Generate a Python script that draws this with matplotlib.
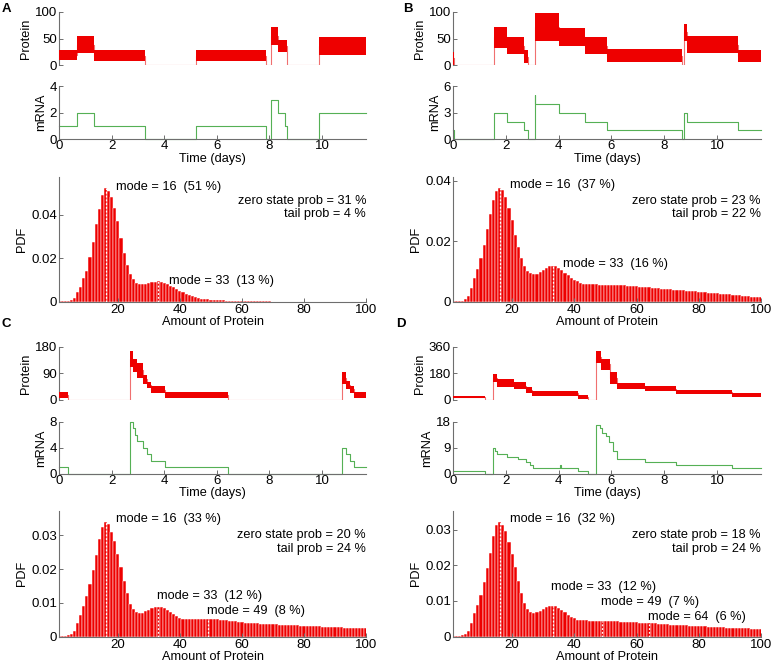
import matplotlib
matplotlib.use("Agg")
import matplotlib.pyplot as plt
import numpy as np

plt.rcParams['font.family'] = ['Liberation Sans', 'DejaVu Sans']
plt.rcParams['font.size'] = 9

T_END = 11.67

# ---------------- Panel A ----------------
A_prot_t = [0, 0.70, 1.33, 3.26, 5.22, 7.88, 8.05, 8.33, 8.68, 9.90]
A_prot_lo = [9, 22, 7, 0, 7, 0, 38, 25, 0, 18]
A_prot_hi = [28, 55, 28, 0, 28, 0, 72, 48, 0, 52]
A_mrna_t = [0, 0.70, 1.33, 3.26, 5.22, 7.88, 8.05, 8.31, 8.60, 8.68, 9.90]
A_mrna = [1, 2, 1, 0, 1, 0, 3, 2, 1, 0, 2]
A_pdf = [0.0005, 0.0003, 0.0003, 0.0005, 0.0010, 0.0020, 0.0045, 0.0070, 0.0110, 0.0140,
         0.0205, 0.0275, 0.0355, 0.0425, 0.0490, 0.0520, 0.0510, 0.0480, 0.0430, 0.0370,
         0.0295, 0.0225, 0.0170, 0.0130, 0.0103, 0.0088, 0.0082, 0.0081, 0.0083, 0.0086,
         0.0090, 0.0093, 0.0094, 0.0092, 0.0088, 0.0082, 0.0075, 0.0067, 0.0059, 0.0051,
         0.0044, 0.0038, 0.0032, 0.0027, 0.0023, 0.0019, 0.0016, 0.0014, 0.0012, 0.0010,
         0.0009, 0.0008, 0.0007, 0.0007, 0.0006, 0.0006, 0.0005, 0.0005, 0.0005, 0.0004,
         0.0004, 0.0004, 0.0004, 0.0003, 0.0003, 0.0003, 0.0003, 0.0003, 0.0003, 0.0002,
         0.0002, 0.0002, 0.0002, 0.0002, 0.0002, 0.0002, 0.0002, 0.0002, 0.0002, 0.0002,
         0.0002, 0.0002, 0.0002, 0.0001, 0.0001, 0.0001, 0.0001, 0.0001, 0.0001, 0.0001,
         0.0001, 0.0001, 0.0001, 0.0001, 0.0001, 0.0001, 0.0001, 0.0001, 0.0001, 0.0001]
A_modes = [16, 33]
A_mode_labels = ["mode = 16  (51 %)", "mode = 33  (13 %)"]
A_info = ["zero state prob = 31 %", "tail prob = 4 %"]

# ---------------- Panel B ----------------
B_prot_t = [0, 0.04, 1.56, 2.04, 2.69, 2.84, 3.10, 4.03, 5.00, 5.84, 8.66, 8.75, 8.88, 10.81]
B_prot_lo = [0, 0, 33, 20, 3, 0, 45, 35, 20, 5, 0, 45, 22, 6]
B_prot_hi = [25, 0, 72, 52, 28, 0, 98, 70, 52, 30, 0, 78, 55, 28]
B_mrna_t = [0, 0.03, 1.56, 2.04, 2.69, 2.84, 3.10, 3.12, 4.03, 5.00, 5.84, 8.66, 8.75, 8.88, 10.81]
B_mrna = [1, 0, 3, 2, 1, 0, 5, 4, 3, 2, 1, 0, 3, 2, 1]
B_pdf = [0.0003, 0.0002, 0.0002, 0.0004, 0.0009, 0.0020, 0.0045, 0.0078, 0.0108, 0.0145,
         0.0188, 0.0240, 0.0290, 0.0335, 0.0365, 0.0375, 0.0370, 0.0345, 0.0310, 0.0270,
         0.0222, 0.0180, 0.0145, 0.0120, 0.0103, 0.0095, 0.0091, 0.0093, 0.0098, 0.0105,
         0.0112, 0.0118, 0.0120, 0.0118, 0.0113, 0.0105, 0.0097, 0.0088, 0.0080, 0.0073,
         0.0068, 0.0064, 0.0061, 0.0059, 0.0058, 0.0058, 0.0058, 0.0057, 0.0057, 0.0057,
         0.0057, 0.0056, 0.0056, 0.0056, 0.0056, 0.0055, 0.0054, 0.0053, 0.0053, 0.0052,
         0.0051, 0.0050, 0.0049, 0.0048, 0.0047, 0.0046, 0.0045, 0.0044, 0.0044, 0.0043,
         0.0042, 0.0041, 0.0040, 0.0039, 0.0038, 0.0037, 0.0036, 0.0036, 0.0035, 0.0034,
         0.0033, 0.0032, 0.0031, 0.0030, 0.0029, 0.0029, 0.0028, 0.0027, 0.0026, 0.0025,
         0.0024, 0.0023, 0.0022, 0.0021, 0.0020, 0.0019, 0.0018, 0.0017, 0.0016, 0.0015]
B_modes = [16, 33]
B_mode_labels = ["mode = 16  (37 %)", "mode = 33  (16 %)"]
B_info = ["zero state prob = 23 %", "tail prob = 22 %"]

# ---------------- Panel C ----------------
C_prot_t = [0, 0.33, 2.70, 2.82, 2.95, 3.20, 3.35, 3.50, 4.04, 6.44, 10.75, 10.90, 11.05, 11.20]
C_prot_lo = [8, 0, 110, 95, 75, 55, 40, 22, 8, 0, 55, 38, 25, 8]
C_prot_hi = [28, 0, 165, 140, 125, 85, 62, 48, 28, 0, 95, 65, 48, 28]
C_mrna_t = [0, 0.33, 2.70, 2.80, 2.90, 2.95, 3.20, 3.33, 3.50, 4.04, 6.44, 10.75, 10.90, 11.05, 11.20]
C_mrna = [1, 0, 8, 7, 6, 5, 4, 3, 2, 1, 0, 4, 3, 2, 1]
C_pdf = [0.0003, 0.0002, 0.0002, 0.0004, 0.0008, 0.0018, 0.0040, 0.0065, 0.0092, 0.0120,
         0.0155, 0.0198, 0.0242, 0.0290, 0.0325, 0.0338, 0.0332, 0.0310, 0.0282, 0.0245,
         0.0205, 0.0165, 0.0128, 0.0098, 0.0082, 0.0073, 0.0069, 0.0070, 0.0075, 0.0080,
         0.0085, 0.0088, 0.0089, 0.0088, 0.0085, 0.0079, 0.0072, 0.0066, 0.0060, 0.0056,
         0.0053, 0.0052, 0.0051, 0.0051, 0.0051, 0.0051, 0.0052, 0.0052, 0.0052, 0.0052,
         0.0051, 0.0051, 0.0050, 0.0049, 0.0048, 0.0047, 0.0046, 0.0045, 0.0044, 0.0043,
         0.0042, 0.0042, 0.0041, 0.0040, 0.0040, 0.0039, 0.0039, 0.0038, 0.0038, 0.0037,
         0.0037, 0.0036, 0.0036, 0.0035, 0.0035, 0.0034, 0.0034, 0.0034, 0.0033, 0.0033,
         0.0032, 0.0032, 0.0031, 0.0031, 0.0031, 0.0030, 0.0030, 0.0029, 0.0029, 0.0028,
         0.0028, 0.0028, 0.0027, 0.0027, 0.0026, 0.0026, 0.0026, 0.0025, 0.0025, 0.0025]
C_modes = [16, 33, 49]
C_mode_labels = ["mode = 16  (33 %)", "mode = 33  (12 %)", "mode = 49  (8 %)"]
C_info = ["zero state prob = 20 %", "tail prob = 24 %"]

# ---------------- Panel D ----------------
D_prot_t = [0, 1.22, 1.52, 1.65, 2.30, 2.75, 3.00, 4.72, 5.10, 5.40, 5.60, 5.95, 6.20, 7.28, 8.46, 10.56]
D_prot_lo = [12, 0, 120, 85, 75, 50, 30, 10, 0, 250, 205, 110, 75, 60, 40, 22]
D_prot_hi = [30, 0, 175, 140, 120, 85, 60, 32, 0, 330, 280, 190, 115, 95, 70, 50]
D_mrna_t = [0, 1.22, 1.52, 1.60, 1.68, 2.05, 2.45, 2.75, 2.92, 3.02, 4.06, 4.09, 4.72, 5.10,
            5.40, 5.56, 5.66, 5.78, 5.92, 6.05, 6.20, 7.28, 8.46, 10.56]
D_mrna = [1, 0, 9, 8, 7, 6, 5, 4, 3, 2, 3, 2, 1, 0, 17, 16, 14, 13, 11, 8, 5, 4, 3, 2]
D_pdf = [0.0003, 0.0002, 0.0002, 0.0004, 0.0008, 0.0016, 0.0038, 0.0065, 0.0090, 0.0118,
         0.0152, 0.0192, 0.0235, 0.0282, 0.0312, 0.0320, 0.0313, 0.0295, 0.0265, 0.0232,
         0.0195, 0.0157, 0.0122, 0.0094, 0.0078, 0.0070, 0.0066, 0.0068, 0.0072, 0.0078,
         0.0082, 0.0085, 0.0086, 0.0085, 0.0081, 0.0075, 0.0068, 0.0061, 0.0055, 0.0051,
         0.0048, 0.0047, 0.0046, 0.0046, 0.0045, 0.0045, 0.0045, 0.0045, 0.0045, 0.0045,
         0.0044, 0.0044, 0.0043, 0.0043, 0.0042, 0.0042, 0.0041, 0.0041, 0.0040, 0.0040,
         0.0039, 0.0039, 0.0039, 0.0038, 0.0038, 0.0037, 0.0036, 0.0036, 0.0035, 0.0035,
         0.0034, 0.0034, 0.0033, 0.0033, 0.0032, 0.0032, 0.0031, 0.0031, 0.0030, 0.0030,
         0.0029, 0.0029, 0.0028, 0.0028, 0.0027, 0.0027, 0.0026, 0.0026, 0.0025, 0.0025,
         0.0024, 0.0024, 0.0024, 0.0023, 0.0023, 0.0023, 0.0022, 0.0022, 0.0022, 0.0021]
D_modes = [16, 33, 49, 64]
D_mode_labels = ["mode = 16  (32 %)", "mode = 33  (12 %)", "mode = 49  (7 %)", "mode = 64  (6 %)"]
D_info = ["zero state prob = 18 %", "tail prob = 24 %"]

amounts = list(range(1, 101))
time_ticks = [0, 2, 4, 6, 8, 10]
pdf_xticks = [20, 40, 60, 80, 100]

# ---------------- styling / layout ----------------
W, H = 771, 662
SPINE = '#6e6e6e'
RED = '#ee0000'
GREEN = '#55b055'
TICK_FS = 9.5
TXT_FS = 9.2

def rect(x0, x1, y0, y1):
    return [x0 / W, 1 - y1 / H, (x1 - x0) / W, (y1 - y0) / H]

def style(ax, show_bottom=True):
    for s in ['top', 'right']:
        ax.spines[s].set_visible(False)
    ax.spines['left'].set_color(SPINE)
    ax.spines['left'].set_linewidth(0.8)
    ax.spines['bottom'].set_color(SPINE)
    ax.spines['bottom'].set_linewidth(0.8)
    if not show_bottom:
        ax.spines['bottom'].set_visible(False)
    ax.tick_params(direction='in', length=3, width=0.7, color=SPINE, labelsize=TICK_FS, pad=1.5)

fig = plt.figure(figsize=(W / 100, H / 100), dpi=100)

panels = [
    dict(x0=59, x1=366, rows=(12, 65, 86.3, 139.3, 177, 302), letter='A', lx=2, ly=9,
         pt=A_prot_t, plo=A_prot_lo, phi=A_prot_hi, pticks=[0, 50, 100],
         mt=A_mrna_t, mv=A_mrna, mticks=[0, 2, 4],
         pdf=A_pdf, pdfticks=[0, 0.02, 0.04], pdflabels=['0', '0.02', '0.04'],
         modes=A_modes, mlabels=A_mode_labels, mpos=[(19.3, 0.0527), (36.4, 0.0095)], info=A_info),
    dict(x0=453, x1=761, rows=(12, 65, 86.3, 139.3, 177, 302), letter='B', lx=403, ly=9,
         pt=B_prot_t, plo=B_prot_lo, phi=B_prot_hi, pticks=[0, 50, 100],
         mt=B_mrna_t, mv=B_mrna, mticks=[0, 3, 6],
         pdf=B_pdf, pdfticks=[0, 0.02, 0.04], pdflabels=['0', '0.02', '0.04'],
         modes=B_modes, mlabels=B_mode_labels, mpos=[(19.3, 0.0386), (36.2, 0.0124)], info=B_info),
    dict(x0=59, x1=366, rows=(346.7, 400, 421.7, 474, 511, 636.7), letter='C', lx=2, ly=324,
         pt=C_prot_t, plo=C_prot_lo, phi=C_prot_hi, pticks=[0, 90, 180],
         mt=C_mrna_t, mv=C_mrna, mticks=[0, 4, 8],
         pdf=C_pdf, pdfticks=[0, 0.01, 0.02, 0.03], pdflabels=['0', '0.01', '0.02', '0.03'],
         modes=C_modes, mlabels=C_mode_labels,
         mpos=[(19.3, 0.0347), (32.7, 0.0119), (48.8, 0.0076)], info=C_info),
    dict(x0=453, x1=761, rows=(346.7, 400, 421.7, 474, 511, 636.7), letter='D', lx=396, ly=324,
         pt=D_prot_t, plo=D_prot_lo, phi=D_prot_hi, pticks=[0, 180, 360],
         mt=D_mrna_t, mv=D_mrna, mticks=[0, 9, 18],
         pdf=D_pdf, pdfticks=[0, 0.01, 0.02, 0.03], pdflabels=['0', '0.01', '0.02', '0.03'],
         modes=D_modes, mlabels=D_mode_labels,
         mpos=[(19.2, 0.0330), (32.4, 0.0139), (48.5, 0.0096), (63.8, 0.0056)], info=D_info),
]

for p in panels:
    x0, x1 = p['x0'], p['x1']
    r = p['rows']
    # protein trace
    ax = fig.add_axes(rect(x0, x1, r[0], r[1]))
    te = list(p['pt']) + [T_END]
    lo = list(p['plo']) + [p['plo'][-1]]
    hi = list(p['phi']) + [p['phi'][-1]]
    mid = [(a + b) / 2 for a, b in zip(lo, hi)]
    ax.step(te, mid, where='post', color='#f07070', lw=0.8, zorder=2)
    ax.fill_between(te, lo, hi, step='post', color=RED, lw=0, zorder=3)
    ax.set_xlim(0, T_END)
    ax.set_ylim(0, p['pticks'][-1])
    ax.set_yticks(p['pticks'])
    ax.set_xticks([])
    style(ax, show_bottom=False)
    ax.set_ylabel('Protein', labelpad=2, fontsize=TXT_FS)

    # mRNA trace
    ax = fig.add_axes(rect(x0, x1, r[2], r[3]))
    me = list(p['mt']) + [T_END]
    mv = list(p['mv']) + [p['mv'][-1]]
    ax.step(me, mv, where='post', color=GREEN, lw=0.8, clip_on=False)
    ax.set_xlim(0, T_END)
    ax.set_ylim(0, p['mticks'][-1])
    ax.set_yticks(p['mticks'])
    ax.set_xticks(time_ticks)
    style(ax)
    ax.tick_params(axis='x', pad=0.5)
    ax.set_ylabel('mRNA', labelpad=2, fontsize=TXT_FS)
    ax.set_xlabel('Time (days)', labelpad=0.5, fontsize=TXT_FS)

    # PDF histogram
    ax = fig.add_axes(rect(x0, x1, r[4], r[5]))
    pdf = p['pdf']
    ax.bar(amounts, pdf, width=1.0, color=RED, edgecolor='white', linewidth=0.35)
    for m in p['modes']:
        ax.plot([m, m], [0, pdf[m - 1]], color='white', lw=0.9, ls=(0, (1.5, 1.5)))
    for (tx, ty), lab in zip(p['mpos'], p['mlabels']):
        ax.text(tx, ty, lab, ha='left', va='center', fontsize=TXT_FS)
    ax.text(1.0, 0.81, p['info'][0], transform=ax.transAxes, ha='right', va='center', fontsize=TXT_FS)
    ax.text(1.0, 0.70, p['info'][1], transform=ax.transAxes, ha='right', va='center', fontsize=TXT_FS)
    ax.set_xlim(1, 100)
    ax.set_ylim(0, max(pdf) * 1.1)
    ax.set_xticks(pdf_xticks)
    ax.set_yticks(p['pdfticks'])
    ax.set_yticklabels(p['pdflabels'])
    style(ax)
    ax.tick_params(axis='x', pad=1.5)
    ax.set_ylabel('PDF', labelpad=2, fontsize=TXT_FS)
    ax.set_xlabel('Amount of Protein', labelpad=0, fontsize=TXT_FS)

    fig.text(p['lx'] / W, 1 - p['ly'] / H, p['letter'], fontsize=9.5, fontweight='bold',
             ha='left', va='center')

fig.savefig('out.png', dpi=100)
